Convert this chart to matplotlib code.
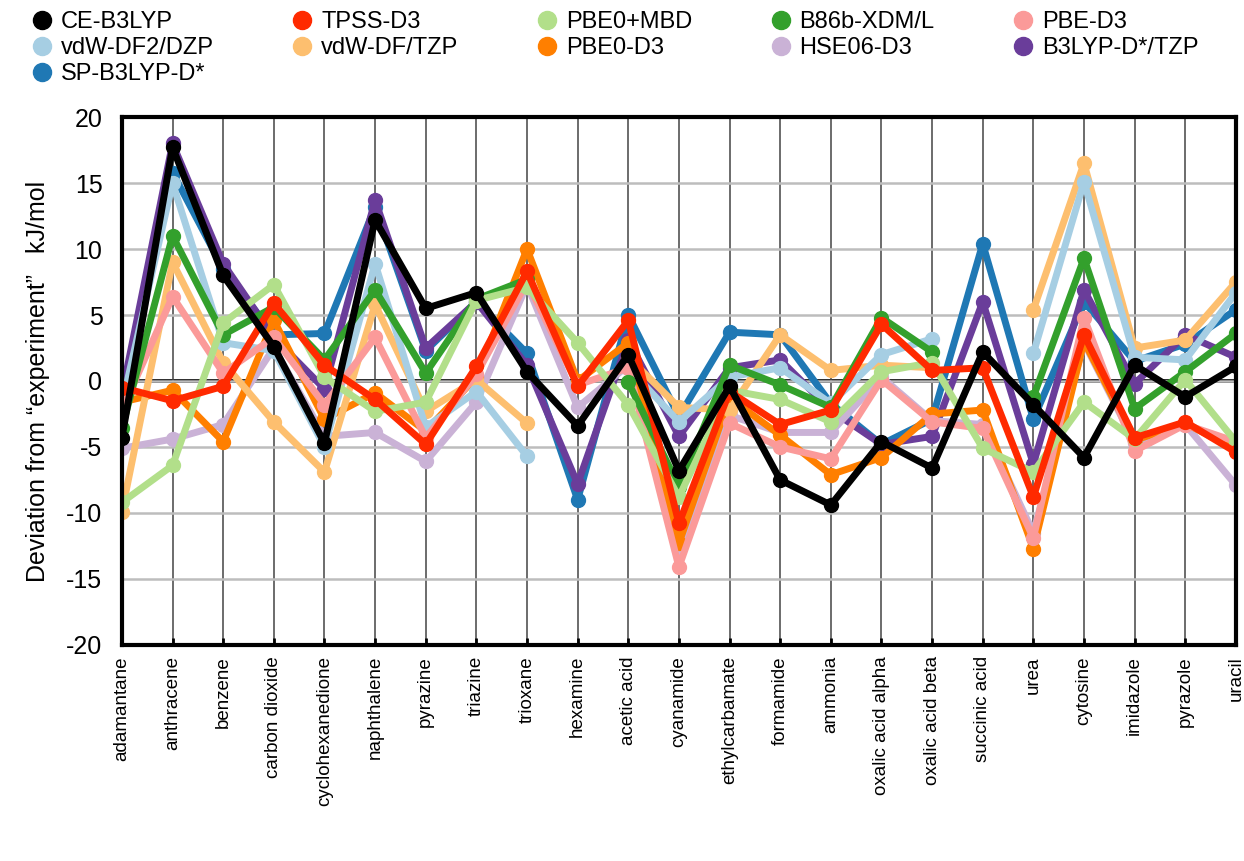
import numpy as np
import matplotlib
matplotlib.use("Agg")
import matplotlib.pyplot as plt
from matplotlib.lines import Line2D

plt.rcParams['font.family'] = ['Liberation Sans', 'DejaVu Sans']
plt.rcParams['axes.unicode_minus'] = False

nan = np.nan

molecules = ['adamantane', 'anthracene', 'benzene', 'carbon dioxide', 'cyclohexanedione',
             'naphthalene', 'pyrazine', 'triazine', 'trioxane', 'hexamine', 'acetic acid',
             'cyanamide', 'ethylcarbamate', 'formamide', 'ammonia', 'oxalic acid alpha',
             'oxalic acid beta', 'succinic acid', 'urea', 'cytosine', 'imidazole',
             'pyrazole', 'uracil']

ce_b3lyp = [-4.3, 17.7, 8.0, 2.6, -4.7, 12.2, 5.5, 6.7, 0.7, -3.4, 2.0, -6.8,
            -0.4, -7.5, -9.4, -4.6, -6.6, 2.2, -1.8, -5.8, 1.2, -1.2, 1.1]
tpss_d3 = [-0.5, -1.5, -0.4, 5.9, 1.2, -1.4, -4.8, 1.1, 8.3, -0.4, 4.6, -10.8,
           -0.8, -3.3, -2.2, 4.3, 0.8, 1.0, -8.8, 3.5, -4.3, -3.1, -5.4]
pbe0_mbd = [-9.2, -6.4, 4.4, 7.3, 0.3, -2.3, -1.6, 6.1, 7.1, 2.9, -1.8, -8.8,
            -0.7, -1.4, -3.1, 0.7, 1.4, -5.1, -6.9, -1.6, -4.4, 0.1, -4.6]
b86b_xdm = [-3.6, 11.0, 3.5, 5.6, 1.6, 6.9, 0.6, 6.2, 7.7, nan, -0.1, -8.0,
            1.2, -0.3, -2.0, 4.8, 2.2, nan, -1.2, 9.3, -2.1, 0.7, 3.6]
pbe_d3 = [-2.2, 6.4, 0.6, 3.3, -1.8, 3.3, -4.3, 0.5, 7.5, -0.3, 1.0, -14.1,
          -3.2, -5.0, -5.9, 0.1, -3.1, -3.6, -11.9, 4.8, -5.3, -3.3, -4.6]
vdw_df2 = [-1.8, 15.0, 2.9, 2.3, -5.0, 8.9, -3.5, -0.8, -5.7, nan, 1.0, -3.1,
           0.3, 1.0, -1.7, 2.0, 3.2, nan, 2.1, 15.1, 1.8, 1.6, 6.7]
vdw_df = [-9.9, 9.0, 1.4, -3.1, -6.9, 5.8, -2.3, 0.1, -3.2, nan, 1.8, -2.0,
          -2.2, 3.5, 0.8, 1.2, 1.0, nan, 5.4, 16.5, 2.5, 3.1, 7.5]
pbe0_d3 = [-1.6, -0.7, -4.6, 4.6, -2.9, -0.9, -3.8, 0.3, 10.0, 0.0, 2.9, -12.3,
           -1.3, -4.1, -7.1, -5.8, -2.5, -2.2, -12.7, 3.0, -4.5, -3.2, -5.2]
hse06_d3 = [-5.1, -4.4, -3.3, 2.5, -4.2, -3.9, -6.1, -1.6, 7.3, -2.0, 1.2, -12.8,
            -2.6, -3.9, -3.9, 0.3, -3.0, -3.3, -11.5, 2.9, -4.7, -3.3, -7.9]
b3lyp_d_tzp = [-1.0, 18.0, 8.9, 3.3, -0.6, 13.7, 2.5, 6.0, 1.2, -7.8, 3.1, -4.2,
               1.0, 1.6, -2.2, -4.8, -4.2, 6.0, -6.3, 6.9, -0.2, 3.5, 1.8]
sp_b3lyp_d = [-1.3, 15.8, 8.5, 3.5, 3.6, 13.2, 2.3, 6.0, 2.1, -9.0, 5.0, -2.7,
              3.7, 3.5, -1.7, -4.8, -2.9, 10.4, -2.9, 6.0, 1.5, 2.8, 5.4]

series = [
    ('CE-B3LYP', ce_b3lyp, 'black'),
    ('TPSS-D3', tpss_d3, '#ff2a00'),
    ('PBE0+MBD', pbe0_mbd, '#b2df8a'),
    ('B86b-XDM/L', b86b_xdm, '#33a02c'),
    ('PBE-D3', pbe_d3, '#fb9a99'),
    ('vdW-DF2/DZP', vdw_df2, '#a6cee3'),
    ('vdW-DF/TZP', vdw_df, '#fdbf6f'),
    ('PBE0-D3', pbe0_d3, '#ff7f00'),
    ('HSE06-D3', hse06_d3, '#cab2d6'),
    ('B3LYP-D*/TZP', b3lyp_d_tzp, '#6a3d9a'),
    ('SP-B3LYP-D*', sp_b3lyp_d, '#1f78b4'),
]

fig = plt.figure(figsize=(12.44, 8.61), dpi=100)
ax = fig.add_axes([0.098, 0.251, 0.8955, 0.613])

x = np.arange(len(molecules))

ax.grid(axis='y', color='#bdbdbd', linewidth=1.8, zorder=0)
ax.grid(axis='x', color='#444444', linewidth=1.1, zorder=0)
ax.axhline(0, color='black', linewidth=2.6, zorder=1)

# last in the legend is drawn first, so CE-B3LYP ends up on top
for name, vals, col in reversed(series):
    ax.plot(x, vals, color=col, linewidth=5, marker='o', markersize=10,
            solid_joinstyle='round', zorder=2)

ax.set_xlim(0, len(molecules) - 1)
ax.set_ylim(-20, 20)
ax.set_yticks(np.arange(-20, 21, 5))
ax.set_xticks(x)
ax.set_xticklabels(molecules, rotation=90, fontsize=13.5)
ax.tick_params(axis='y', length=0, labelsize=18, pad=14)
ax.tick_params(axis='x', direction='in', length=5, width=2, pad=8)
for s in ax.spines.values():
    s.set_linewidth(3)
ax.set_ylabel('Deviation from \u201cexperiment\u201d   kJ/mol', fontsize=18, labelpad=12)

# legend fills rows in the original, matplotlib fills columns
order = [0, 5, 10, 1, 6, 2, 7, 3, 8, 4, 9]
handles = [Line2D([], [], linestyle='none', marker='o', markersize=13,
                  color=series[i][2]) for i in order]
labels = [series[i][0] for i in order]
fig.legend(handles, labels, ncol=5, loc='upper left', bbox_to_anchor=(0.008, 1.012),
           frameon=False, fontsize=17, handletextpad=0.35, columnspacing=3.3,
           labelspacing=0.18, handlelength=0.9)

fig.savefig('out.png', dpi=100)
